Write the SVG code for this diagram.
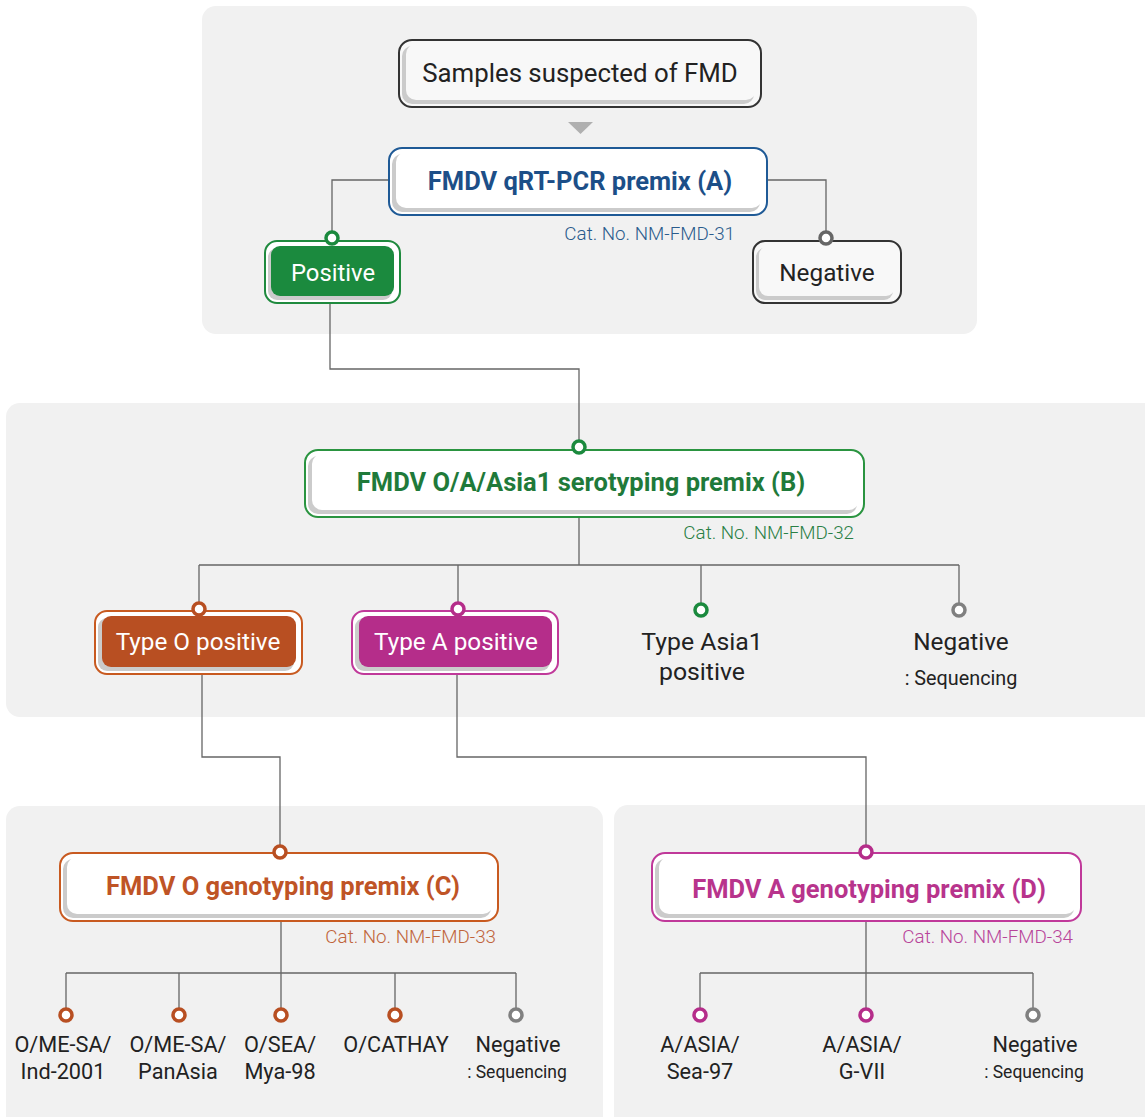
<svg xmlns="http://www.w3.org/2000/svg" width="1145" height="1117" viewBox="0 0 1145 1117">
<style>
.panel{fill:#f1f1f1}
.out{stroke-width:2}
.sh{fill:#cbcbcb}
.wl{font-family:Roboto,"Liberation Sans",sans-serif}
.nt{font-size:24.3px;fill:#222;text-anchor:middle}
.bt{font-size:25.5px;font-weight:bold;text-anchor:middle}
.wt{font-size:24.3px;fill:#fff;text-anchor:middle}
.cat{font-size:18.8px;font-weight:300;text-anchor:end}
.lb{font-size:21.7px;fill:#222;text-anchor:middle}
.sq{font-size:17.5px;fill:#222;text-anchor:middle}
.sq2{font-size:19.8px;fill:#222;text-anchor:middle}
.ln{fill:none;stroke:#666;stroke-width:1.3}
.dot{fill:#fff;stroke-width:3.5}
</style>
<rect width="1145" height="1117" fill="#fff"/>
<g id="panels">
<rect class="panel" x="202" y="6" width="775" height="328" rx="14"/>
<rect class="panel" x="6" y="403" width="1160" height="314" rx="14"/>
<rect class="panel" x="6" y="806" width="597" height="330" rx="14"/>
<rect class="panel" x="614" y="805" width="560" height="330" rx="14"/>
</g>
<g id="connectors">
<path class="ln" d="M389 180H332V232"/>
<path class="ln" d="M767 180H826V232"/>
<path class="ln" d="M330 303V369H579V441"/>
<path class="ln" d="M579 518V565M199 565H959M199 565V603M458 565V603M701 565V603M959 565V603"/>
<path class="ln" d="M202 674V757H280V846"/>
<path class="ln" d="M457 674V757H866V846"/>
<path class="ln" d="M281 921V973M66 973H516M66 973V1009M179 973V1009M281 973V1009M395 973V1009M516 973V1009"/>
<path class="ln" d="M866 921V973M700 973H1033M700 973V1009M866 973V1009M1033 973V1009"/>
<polygon points="568,122 593,122 580.5,134" fill="#b0b0b0"/>
</g>
<g id="samples">
<rect class="out" x="399" y="40" width="362" height="67" rx="13" fill="#f8f8f8" stroke="#333"/>
<rect class="sh" x="402" y="46" width="352" height="58" rx="10"/>
<rect x="406" y="44" width="350" height="56" rx="10" fill="#f8f8f8"/>
<text class="wl nt" x="580" y="82" style="font-size:25.8px">Samples suspected of FMD</text>
</g>
<g id="premixA">
<rect class="out" x="389" y="148" width="378" height="67" rx="13" fill="#fff" stroke="#1f5a96"/>
<rect class="sh" x="392" y="154" width="368" height="58" rx="10"/>
<rect x="396" y="152" width="366" height="56" rx="10" fill="#fff"/>
<text class="wl bt" x="580" y="190" fill="#1c4f88">FMDV qRT-PCR premix (A)</text>
<text class="wl cat" x="735" y="240" fill="#2a5b8c">Cat. No. NM-FMD-31</text>
</g>
<g id="positive">
<rect class="out" x="265" y="241" width="135" height="62" rx="12" fill="#fff" stroke="#1f8a3e"/>
<rect class="sh" x="268" y="248" width="124" height="52" rx="9"/>
<rect x="271" y="246" width="123" height="50" rx="9" fill="#1b8a3e"/>
<text class="wl wt" x="333" y="281" style="font-size:23.8px">Positive</text>
<circle class="dot" cx="332" cy="238" r="6" stroke="#1b8a3e"/>
</g>
<g id="negativeA">
<rect class="out" x="753" y="241" width="148" height="62" rx="12" fill="#f8f8f8" stroke="#333"/>
<rect class="sh" x="756" y="248" width="137" height="52" rx="9"/>
<rect x="759" y="246" width="136" height="50" rx="9" fill="#f8f8f8"/>
<text class="wl nt" x="827" y="281">Negative</text>
<circle class="dot" cx="826" cy="238" r="6" stroke="#666"/>
</g>
<g id="premixB">
<rect class="out" x="305" y="450" width="559" height="67" rx="13" fill="#fff" stroke="#2a9440"/>
<rect class="sh" x="308" y="456" width="549" height="58" rx="10"/>
<rect x="312" y="454" width="547" height="56" rx="10" fill="#fff"/>
<text class="wl bt" x="581" y="491" fill="#1f7a3a">FMDV O/A/Asia1 serotyping premix (B)</text>
<text class="wl cat" x="854" y="539" fill="#2a7f45">Cat. No. NM-FMD-32</text>
<circle class="dot" cx="579" cy="447" r="6" stroke="#1b8a3e"/>
</g>
<g id="typeO">
<rect class="out" x="95" y="611" width="207" height="63" rx="12" fill="#fff" stroke="#c85a20"/>
<rect class="sh" x="98" y="618" width="196" height="53" rx="9"/>
<rect x="102" y="616" width="194" height="51" rx="9" fill="#b84f22"/>
<text class="wl wt" x="198" y="650">Type O positive</text>
<circle class="dot" cx="199" cy="609" r="6" stroke="#b84f22"/>
</g>
<g id="typeA">
<rect class="out" x="352" y="611" width="206" height="63" rx="12" fill="#fff" stroke="#c0399a"/>
<rect class="sh" x="355" y="618" width="195" height="53" rx="9"/>
<rect x="359" y="616" width="193" height="51" rx="9" fill="#b52d8a"/>
<text class="wl wt" x="456" y="650">Type A positive</text>
<circle class="dot" cx="458" cy="609" r="6" stroke="#b52d8a"/>
</g>
<g id="typeAsia1">
<circle class="dot" cx="701" cy="610" r="6" stroke="#1b8a3e"/>
<text class="wl nt" x="702" y="650" style="font-size:24.8px">Type Asia1</text>
<text class="wl nt" x="702" y="680" style="font-size:24.8px">positive</text>
</g>
<g id="negativeB">
<circle class="dot" cx="959" cy="610" r="6" stroke="#808080"/>
<text class="wl nt" x="961" y="650">Negative</text>
<text class="wl sq2" x="961" y="685">: Sequencing</text>
</g>
<g id="premixC">
<rect class="out" x="60" y="853" width="438" height="68" rx="13" fill="#fff" stroke="#c85a20"/>
<rect class="sh" x="63" y="859" width="428" height="59" rx="10"/>
<rect x="67" y="857" width="426" height="57" rx="10" fill="#fff"/>
<text class="wl bt" x="283" y="895" fill="#bf5426">FMDV O genotyping premix (C)</text>
<text class="wl cat" x="496" y="943" fill="#c0643a">Cat. No. NM-FMD-33</text>
<circle class="dot" cx="280" cy="852" r="6" stroke="#b84f22"/>
</g>
<g id="premixD">
<rect class="out" x="652" y="853" width="429" height="68" rx="13" fill="#fff" stroke="#c0399a"/>
<rect class="sh" x="655" y="859" width="419" height="59" rx="10"/>
<rect x="659" y="857" width="417" height="57" rx="10" fill="#fff"/>
<text class="wl bt" x="869" y="898" fill="#b8348c">FMDV A genotyping premix (D)</text>
<text class="wl cat" x="1073" y="943" fill="#b8449a">Cat. No. NM-FMD-34</text>
<circle class="dot" cx="866" cy="852" r="6" stroke="#b52d8a"/>
</g>
<g id="o1"><circle class="dot" cx="66" cy="1015" r="6" stroke="#b84f22"/><text class="wl lb" x="63" y="1052">O/ME-SA/</text><text class="wl lb" x="63" y="1079">Ind-2001</text></g>
<g id="o2"><circle class="dot" cx="179" cy="1015" r="6" stroke="#b84f22"/><text class="wl lb" x="178" y="1052">O/ME-SA/</text><text class="wl lb" x="178" y="1079">PanAsia</text></g>
<g id="o3"><circle class="dot" cx="281" cy="1015" r="6" stroke="#b84f22"/><text class="wl lb" x="280" y="1052">O/SEA/</text><text class="wl lb" x="280" y="1079">Mya-98</text></g>
<g id="o4"><circle class="dot" cx="395" cy="1015" r="6" stroke="#b84f22"/><text class="wl lb" x="396" y="1052">O/CATHAY</text></g>
<g id="o5"><circle class="dot" cx="516" cy="1015" r="6" stroke="#808080"/><text class="wl lb" x="518" y="1052">Negative</text><text class="wl sq" x="517" y="1078">: Sequencing</text></g>
<g id="a1"><circle class="dot" cx="700" cy="1015" r="6" stroke="#b52d8a"/><text class="wl lb" x="700" y="1052">A/ASIA/</text><text class="wl lb" x="700" y="1079">Sea-97</text></g>
<g id="a2"><circle class="dot" cx="866" cy="1015" r="6" stroke="#b52d8a"/><text class="wl lb" x="862" y="1052">A/ASIA/</text><text class="wl lb" x="862" y="1079">G-VII</text></g>
<g id="a3"><circle class="dot" cx="1033" cy="1015" r="6" stroke="#808080"/><text class="wl lb" x="1035" y="1052">Negative</text><text class="wl sq" x="1034" y="1078">: Sequencing</text></g>
</svg>
